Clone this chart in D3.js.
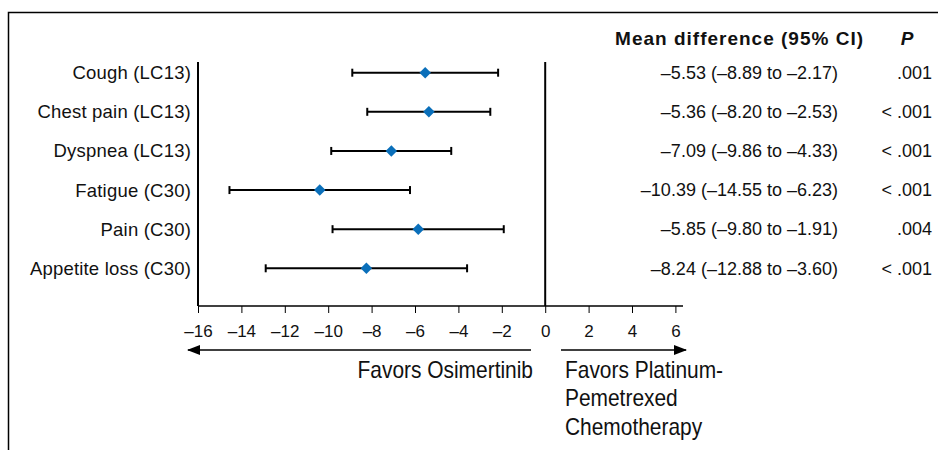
<!DOCTYPE html>
<html>
<head>
<meta charset="utf-8">
<script src="https://cdn.jsdelivr.net/npm/d3@7"></script>
<style>
  html, body { margin: 0; padding: 0; background: #fff; }
  svg { display: block; }
  text { font-family: "Liberation Sans", Arial, sans-serif; fill: #111; }
</style>
</head>
<body>
<svg id="chart" width="938" height="450"></svg>
<script>
// Outcome measures (EORTC QLQ-LC13 / QLQ-C30 symptom scales)
const outcomes = ["Cough (LC13)", "Chest pain (LC13)", "Dyspnea (LC13)", "Fatigue (C30)", "Pain (C30)", "Appetite loss (C30)"];
const meanDiff = [-5.53, -5.36, -7.09, -10.39, -5.85, -8.24];
const ciLow    = [-8.89, -8.20, -9.86, -14.55, -9.80, -12.88];
const ciHigh   = [-2.17, -2.53, -4.33, -6.23, -1.91, -3.60];
const pValues  = [".001", "< .001", "< .001", "< .001", ".004", "< .001"];
const xTicks   = [-16, -14, -12, -10, -8, -6, -4, -2, 0, 2, 4, 6];

const svg = d3.select("#chart");
const dash = s => String(s).replace("-", "\u2013");
const fmt = v => dash(v.toFixed(2));

// Outer frame (top and left rules)
svg.append("path")
  .attr("d", "M8.5,450 V12.5 H938")
  .attr("fill", "none").attr("stroke", "#000").attr("stroke-width", 1.5);

const x = d3.scaleLinear().domain([-16, 6.35]).range([198, 683]);
const y = d3.scalePoint().domain(outcomes).range([72.7, 268.3]);
const axisY = 306, plotTop = 62;

// x axis
const xAxis = svg.append("g")
  .attr("transform", `translate(0,${axisY})`)
  .call(d3.axisBottom(x).tickValues(xTicks).tickSize(7).tickPadding(12)
    .tickFormat(d => d < 0 ? "\u2013" + Math.abs(d) : String(d)));
xAxis.select(".domain").attr("stroke", "#000").attr("stroke-width", 1.6)
  .attr("d", `M${x(-16)},0H${x(6.35)}`);
xAxis.selectAll(".tick line").attr("stroke", "#000").attr("stroke-width", 1);
xAxis.selectAll(".tick text")
  .style("font-family", "'Liberation Sans', Arial, sans-serif")
  .style("font-size", "17px").attr("fill", "#111");

// left axis and zero line
svg.append("line").attr("x1", x(-16)).attr("x2", x(-16))
  .attr("y1", plotTop).attr("y2", axisY).attr("stroke", "#000").attr("stroke-width", 2);
svg.append("line").attr("x1", x(0)).attr("x2", x(0))
  .attr("y1", plotTop).attr("y2", axisY).attr("stroke", "#000").attr("stroke-width", 2);

// row labels
svg.append("g").selectAll("text").data(outcomes).join("text")
  .attr("x", 191).attr("y", d => y(d)).attr("dy", "0.35em")
  .attr("text-anchor", "end").style("font-size", "18.5px").style("letter-spacing", "0.2px")
  .text(d => d);

// confidence intervals
const rows = outcomes.map((o, i) => ({ o, m: meanDiff[i], lo: ciLow[i], hi: ciHigh[i], p: pValues[i] }));
const g = svg.append("g").selectAll("g").data(rows).join("g")
  .attr("transform", d => `translate(0,${y(d.o)})`);
g.append("line").attr("x1", d => x(d.lo)).attr("x2", d => x(d.hi))
  .attr("stroke", "#000").attr("stroke-width", 2);
g.append("line").attr("x1", d => x(d.lo)).attr("x2", d => x(d.lo))
  .attr("y1", -4).attr("y2", 4).attr("stroke", "#000").attr("stroke-width", 2);
g.append("line").attr("x1", d => x(d.hi)).attr("x2", d => x(d.hi))
  .attr("y1", -4).attr("y2", 4).attr("stroke", "#000").attr("stroke-width", 2);
g.append("path")
  .attr("d", d3.symbol(d3.symbolSquare, 66))
  .attr("transform", d => `translate(${x(d.m)},0) rotate(45)`)
  .attr("fill", "#0a6fba");

// table columns
svg.append("text").attr("x", 864).attr("y", 38).attr("dy", "0.35em")
  .attr("text-anchor", "end").style("font-size", "19px").style("font-weight", "bold")
  .style("letter-spacing", "1px")
  .text("Mean difference (95% CI)");
svg.append("text").attr("x", 907).attr("y", 38).attr("dy", "0.35em")
  .attr("text-anchor", "middle").style("font-size", "19px").style("font-weight", "bold")
  .style("font-style", "italic").text("P");
svg.append("g").selectAll("text").data(rows).join("text")
  .attr("x", 838).attr("y", d => y(d.o)).attr("dy", "0.35em")
  .attr("text-anchor", "end").style("font-size", "18px")
  .text(d => `${fmt(d.m)} (${fmt(d.lo)} to ${fmt(d.hi)})`);
svg.append("g").selectAll("text").data(rows).join("text")
  .attr("x", 932).attr("y", d => y(d.o)).attr("dy", "0.35em")
  .attr("text-anchor", "end").style("font-size", "18px").text(d => d.p);

// direction arrows
const defs = svg.append("defs");
defs.append("marker").attr("id", "arrow").attr("viewBox", "0 0 13 10")
  .attr("refX", 12).attr("refY", 5).attr("markerWidth", 13).attr("markerHeight", 10)
  .attr("markerUnits", "userSpaceOnUse").attr("orient", "auto-start-reverse")
  .append("path").attr("d", "M0,0 L13,5 L0,10 Z").attr("fill", "#000");
const arrowY = 350;
svg.append("line").attr("x1", 531).attr("x2", 188).attr("y1", arrowY).attr("y2", arrowY)
  .attr("stroke", "#000").attr("stroke-width", 1.6).attr("marker-end", "url(#arrow)");
svg.append("line").attr("x1", 561).attr("x2", 686).attr("y1", arrowY).attr("y2", arrowY)
  .attr("stroke", "#000").attr("stroke-width", 1.6).attr("marker-end", "url(#arrow)");

// direction captions, set in a horizontally condensed face
const squeeze = 0.91;
svg.append("g").attr("transform", `translate(533,378) scale(${squeeze},1)`)
  .append("text").attr("text-anchor", "end").style("font-size", "23px")
  .text("Favors Osimertinib");
const fav = svg.append("g").attr("transform", `translate(565,378) scale(${squeeze},1)`)
  .append("text").style("font-size", "23px");
["Favors Platinum-", "Pemetrexed", "Chemotherapy"].forEach((t, i) =>
  fav.append("tspan").attr("x", 0).attr("dy", i ? 28.5 : 0).text(t));
</script>
</body>
</html>
